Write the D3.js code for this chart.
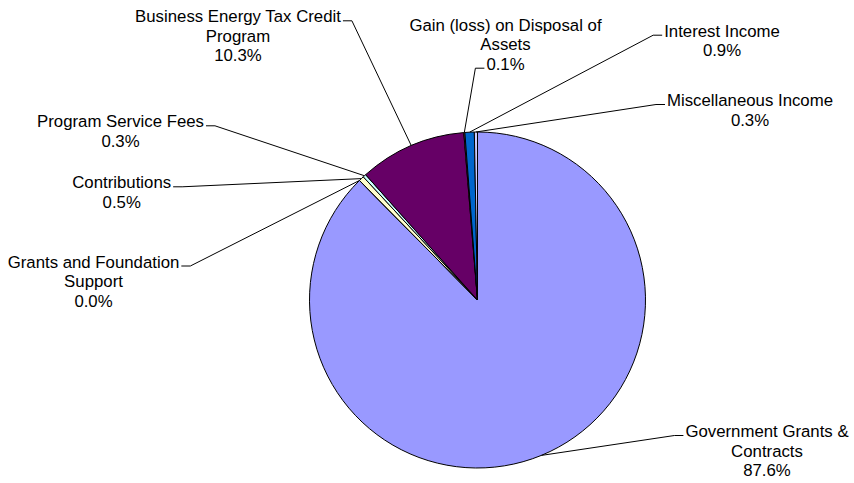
<!DOCTYPE html>
<html>
<head>
<meta charset="utf-8">
<script src="https://cdn.jsdelivr.net/npm/d3@7"></script>
<style>
    body { margin: 0; background: #fff; }
    text { font-family: "Liberation Sans", Arial, sans-serif; font-size: 16.8px; fill: #000; }
</style>
</head>
<body>
<svg id="chart" width="854" height="483"></svg>
<script>

// revenue categories, in slice order (clockwise from 12 o'clock)
const categories = [
    "Government Grants & Contracts",
    "Grants and Foundation Support",
    "Contributions",
    "Program Service Fees",
    "Business Energy Tax Credit Program",
    "Gain (loss) on Disposal of Assets",
    "Interest Income",
    "Miscellaneous Income"
];

// share of revenue, percent
const shares = [87.6, 0.0, 0.5, 0.3, 10.3, 0.1, 0.9, 0.3];

// how each label is broken into lines
const labelLines = [
    ["Government Grants &", "Contracts"],
    ["Grants and Foundation", "Support"],
    ["Contributions"],
    ["Program Service Fees"],
    ["Business Energy Tax Credit", "Program"],
    ["Gain (loss) on Disposal of", "Assets"],
    ["Interest Income"],
    ["Miscellaneous Income"]
];

const colors = ["#9999FF", "#993366", "#FFFFCC", "#CCFFFF", "#660066", "#FF8080", "#0066CC", "#CCCCFF"];

class PieChart {
    constructor() {
        this.svg = d3.select("#chart");
        this.center = {x: 477.5, y: 300};
        this.radius = 168;
        this.lineHeight = 19.5;

        // label placement: center x, first baseline, which line the leader hooks on, which side
        this.labelLayout = [
            {cx: 767, y: 437, line: 0, side: "left"},
            {cx: 93.5, y: 267.5, line: 0, side: "right"},
            {cx: 121.7, y: 188.3, line: 0, side: "right"},
            {cx: 120.5, y: 127.3, line: 0, side: "right"},
            {cx: 238, y: 22.3, line: 0, side: "right"},
            {cx: 505.5, y: 30.7, line: 2, side: "left"},
            {cx: 722, y: 36.7, line: 0, side: "left"},
            {cx: 750, y: 106, line: 0, side: "left"}
        ];
    }

    drawPie() {
        let pie = d3.pie().sort(null).value(d => d.value)
            .startAngle(0).endAngle(2 * Math.PI);

        this.arcs = pie(shares.map((v, i) => ({value: v, index: i})));

        let arc = d3.arc().innerRadius(0).outerRadius(this.radius);

        let g = this.svg.append("g")
            .attr("transform", `translate(${this.center.x},${this.center.y})`);

        g.selectAll("path")
            .data(this.arcs).enter()
            .append("path")
            .attr("d", arc)
            .attr("fill", d => colors[d.data.index])
            .attr("stroke", "#000")
            .attr("stroke-width", 1)
            .attr("stroke-linejoin", "round");
    }

    drawLabels() {
        let that = this;

        let labels = this.svg.append("g").attr("class", "labels");
        let leaders = this.svg.insert("g", ".labels").attr("class", "leaders");

        this.arcs.forEach(function(d, i) {
            let lay = that.labelLayout[i];
            let lines = labelLines[i].concat([shares[i].toFixed(1) + "%"]);

            let txt = labels.append("text").attr("text-anchor", "middle");
            lines.forEach(function(l, k) {
                txt.append("tspan")
                    .attr("x", lay.cx)
                    .attr("y", lay.y + k * that.lineHeight)
                    .text(l);
            });

            // width of the line the leader hooks on
            let hookWidth = txt.selectAll("tspan").nodes()[lay.line].getComputedTextLength();
            let hookY = lay.y + lay.line * that.lineHeight - 1.5;
            let edge = lay.side == "left" ? lay.cx - hookWidth / 2 - 2 : lay.cx + hookWidth / 2 + 2;
            let tickEnd = lay.side == "left" ? edge - 9 : edge + 9;

            // point on the rim at the middle of the slice
            let mid = (d.startAngle + d.endAngle) / 2;
            let px = that.center.x + that.radius * Math.sin(mid);
            let py = that.center.y - that.radius * Math.cos(mid);

            leaders.append("polyline")
                .attr("points", `${edge},${hookY} ${tickEnd},${hookY} ${px},${py}`)
                .attr("fill", "none")
                .attr("stroke", "#000")
                .attr("stroke-width", 1);
        });
    }
}

let chart = new PieChart();
chart.drawPie();
chart.drawLabels();

</script>
</body>
</html>
